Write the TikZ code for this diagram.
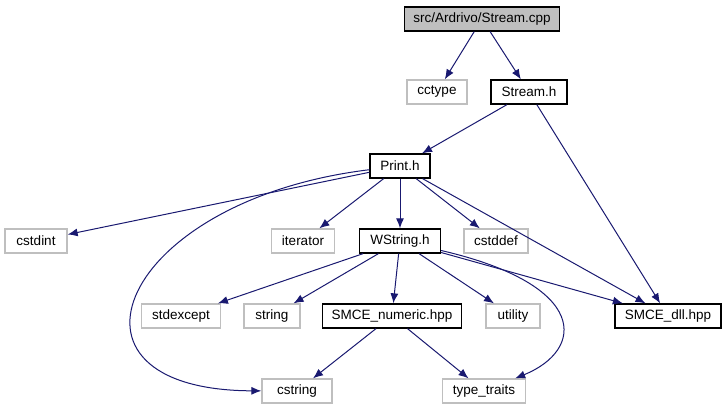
\documentclass[tikz,border=0pt]{standalone}
\usepackage{fontspec}
\setmainfont{Liberation Sans}
\usepackage{xcolor}
\usepackage{tikz}
\usetikzlibrary{arrows.meta,positioning}
\definecolor{edgeblue}{HTML}{191970}
\definecolor{lightframe}{HTML}{BFBFBF}

\begin{document}
\begin{tikzpicture}[
    x=1pt, y=-1pt,
    >={Latex[length=10pt,width=8pt]},
    hdr/.style={draw=black, line width=1.3pt, fill=white,
        minimum height=24pt, inner sep=0pt,
        font=\fontsize{13.5}{15}\selectfont},
    sysh/.style={hdr, draw=lightframe},
    root/.style={hdr, fill=lightframe},
    dep/.style={->, edgeblue, line width=1pt},
]
\useasboundingbox (0,0) rectangle (726,411);

\node[root, minimum width=155pt] (streamcpp) at (482,19) {src/Ardrivo/Stream.cpp};

\node[sysh, minimum width=60pt] (cctype) at (437,92) {cctype};
\node[hdr, minimum width=76pt] (streamh) at (529,92) {Stream.h};

\node[hdr, minimum width=60pt] (printh) at (400,166) {Print.h};

\node[sysh, minimum width=62pt] (cstdint) at (36,241) {cstdint};
\node[sysh, minimum width=63pt] (iterator) at (303,241) {iterator};
\node[hdr, minimum width=81pt] (wstring) at (400,241) {WString.h};
\node[sysh, minimum width=64pt] (cstddef) at (496,241) {cstddef};

\node[sysh, minimum width=79pt] (stdexcept) at (181,316) {stdexcept};
\node[sysh, minimum width=56pt] (string) at (272,316) {string};
\node[hdr, minimum width=139pt] (numeric) at (392,316) {SMCE\_numeric.hpp};
\node[sysh, minimum width=54pt] (utility) at (513,316) {utility};
\node[hdr, minimum width=106pt] (dll) at (668,316) {SMCE\_dll.hpp};

\node[sysh, minimum width=70pt] (cstring) at (297,391) {cstring};
\node[sysh, minimum width=83pt] (typetraits) at (484,391) {type\_traits};

% Stream.cpp
\draw[dep] (streamcpp) -- (cctype);
\draw[dep] (streamcpp) -- (streamh);

% Stream.h
\draw[dep] (streamh) -- (printh);
\draw[dep] (streamh) -- (dll);

% Print.h
\draw[dep] (printh) -- (cstdint);
\draw[dep] (printh) .. controls (120,200) and (40,390) .. (cstring);
\draw[dep] (printh) -- (iterator);
\draw[dep] (printh) -- (wstring);
\draw[dep] (printh) -- (cstddef);
\draw[dep] (printh) -- (dll);

% WString.h
\draw[dep] (wstring) -- (stdexcept);
\draw[dep] (wstring) -- (string);
\draw[dep] (wstring) -- (numeric);
\draw[dep] (wstring) -- (utility);
\draw[dep] (wstring) -- (dll);
\draw[dep] (wstring) .. controls (590,285) and (585,350) .. (typetraits);

% SMCE_numeric.hpp
\draw[dep] (numeric) -- (cstring);
\draw[dep] (numeric) -- (typetraits);
\end{tikzpicture}
\end{document}
